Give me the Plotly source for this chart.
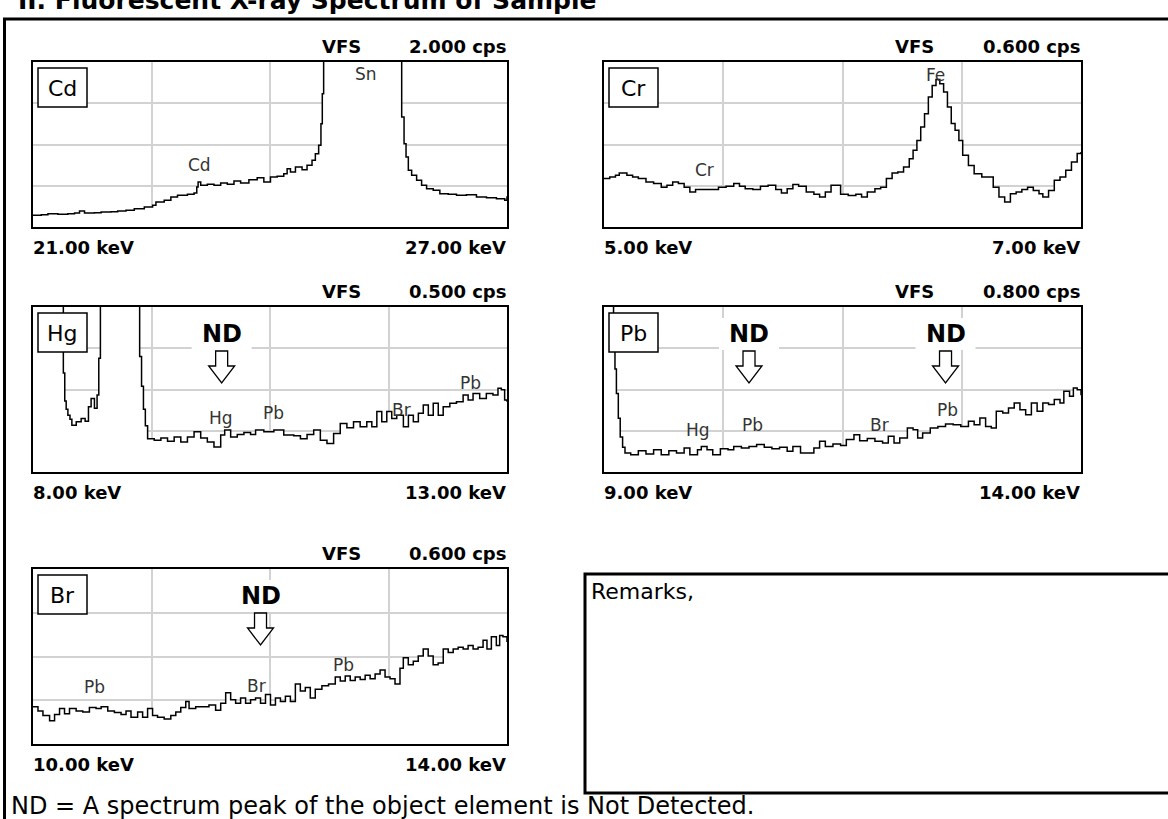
import plotly.graph_objects as go

W, H = 1168, 819

# ---------------- data ----------------
cd_keV = [21.000, 21.105, 21.189, 21.315, 21.441, 21.526, 21.589, 21.652, 21.778, 21.862, 21.988, 22.072,
          22.177, 22.282, 22.409, 22.514, 22.556, 22.661, 22.745, 22.829, 22.955, 23.039, 23.073, 23.090,
          23.123, 23.207, 23.291, 23.376, 23.460, 23.544, 23.628, 23.733, 23.838, 23.922, 24.006, 24.090,
          24.174, 24.217, 24.259, 24.322, 24.406, 24.469, 24.532, 24.574, 24.616, 24.645, 24.662, 24.679,
          24.750, 24.900, 25.270, 25.500, 25.650, 25.667, 25.697, 25.722, 25.751, 25.793, 25.856, 25.919,
          25.982, 26.066, 26.150, 26.256, 26.361, 26.487, 26.613, 26.740, 26.866, 26.971, 27.000]
cd_cps = [0.141, 0.150, 0.162, 0.154, 0.162, 0.170, 0.194, 0.170, 0.174, 0.182, 0.186, 0.194,
          0.202, 0.222, 0.242, 0.263, 0.303, 0.323, 0.364, 0.384, 0.396, 0.412, 0.485, 0.545,
          0.505, 0.517, 0.505, 0.533, 0.517, 0.558, 0.533, 0.574, 0.598, 0.545, 0.606, 0.614,
          0.646, 0.707, 0.667, 0.727, 0.695, 0.747, 0.808, 0.889, 0.990, 1.253, 1.616, 2.050,
          3.000, 6.000, 9.000, 5.000, 2.600, 1.333, 1.010, 0.848, 0.687, 0.626, 0.566, 0.505,
          0.465, 0.444, 0.404, 0.396, 0.384, 0.392, 0.364, 0.356, 0.343, 0.323, 0.372]

cr_keV = [5.000, 5.024, 5.048, 5.064, 5.096, 5.120, 5.144, 5.176, 5.208, 5.240, 5.264, 5.288, 5.312,
          5.336, 5.360, 5.384, 5.416, 5.448, 5.480, 5.512, 5.544, 5.568, 5.592, 5.624, 5.656, 5.688,
          5.720, 5.744, 5.768, 5.792, 5.816, 5.848, 5.880, 5.904, 5.928, 5.952, 5.976, 5.992, 6.024,
          6.056, 6.080, 6.104, 6.136, 6.160, 6.184, 6.208, 6.232, 6.256, 6.280, 6.296, 6.312, 6.328,
          6.344, 6.360, 6.376, 6.392, 6.408, 6.424, 6.440, 6.456, 6.472, 6.488, 6.504, 6.528, 6.552,
          6.584, 6.616, 6.632, 6.656, 6.680, 6.704, 6.728, 6.752, 6.776, 6.800, 6.824, 6.840, 6.864,
          6.888, 6.912, 6.936, 6.960, 6.984, 7.000]
cr_cps = [0.176, 0.182, 0.188, 0.196, 0.188, 0.182, 0.176, 0.164, 0.158, 0.145, 0.152, 0.164, 0.158,
          0.145, 0.127, 0.136, 0.136, 0.136, 0.145, 0.148, 0.158, 0.148, 0.139, 0.136, 0.148, 0.152,
          0.136, 0.124, 0.139, 0.155, 0.148, 0.127, 0.119, 0.109, 0.127, 0.152, 0.152, 0.119, 0.115,
          0.119, 0.109, 0.127, 0.139, 0.145, 0.176, 0.196, 0.200, 0.218, 0.248, 0.279, 0.315, 0.364,
          0.412, 0.473, 0.515, 0.536, 0.521, 0.491, 0.436, 0.376, 0.352, 0.315, 0.261, 0.224, 0.194,
          0.182, 0.182, 0.145, 0.109, 0.091, 0.121, 0.127, 0.136, 0.145, 0.133, 0.121, 0.109, 0.133,
          0.170, 0.182, 0.206, 0.236, 0.267, 0.273]

hg_keV = [8.000, 8.150, 8.300, 8.320, 8.335, 8.350, 8.368, 8.390, 8.410, 8.456, 8.508, 8.550, 8.585,
          8.613, 8.648, 8.676, 8.694, 8.711, 8.850, 9.000, 9.110, 9.125, 9.145, 9.165, 9.185, 9.209,
          9.279, 9.349, 9.419, 9.489, 9.559, 9.629, 9.699, 9.769, 9.839, 9.909, 9.980, 10.022, 10.085,
          10.155, 10.225, 10.295, 10.348, 10.435, 10.541, 10.645, 10.751, 10.821, 10.891, 10.961, 11.031,
          11.101, 11.171, 11.241, 11.311, 11.381, 11.451, 11.521, 11.574, 11.627, 11.679, 11.732, 11.784,
          11.837, 11.907, 11.960, 12.012, 12.065, 12.117, 12.170, 12.222, 12.275, 12.327, 12.397, 12.467,
          12.537, 12.590, 12.642, 12.712, 12.782, 12.852, 12.905, 12.940, 12.975, 13.000]
hg_cps = [1.500, 1.100, 0.600, 0.300, 0.215, 0.190, 0.172, 0.160, 0.142, 0.152, 0.162, 0.154, 0.198,
          0.223, 0.193, 0.233, 0.345, 0.700, 1.400, 1.200, 0.600, 0.350, 0.260, 0.190, 0.140, 0.101,
          0.096, 0.103, 0.093, 0.106, 0.091, 0.106, 0.122, 0.103, 0.091, 0.076, 0.112, 0.127, 0.106,
          0.114, 0.120, 0.114, 0.127, 0.122, 0.127, 0.112, 0.110, 0.101, 0.114, 0.127, 0.096,
          0.086, 0.117, 0.147, 0.134, 0.152, 0.137, 0.152, 0.137, 0.183, 0.152, 0.183, 0.162,
          0.172, 0.137, 0.172, 0.152, 0.178, 0.203, 0.172, 0.208, 0.172, 0.198, 0.208, 0.213,
          0.233, 0.218, 0.238, 0.223, 0.238, 0.233, 0.254, 0.249, 0.218, 0.213]

pb_keV = [9.000, 9.080, 9.100, 9.115, 9.130, 9.150, 9.170, 9.195, 9.220, 9.280, 9.360, 9.440, 9.520,
          9.600, 9.680, 9.760, 9.840, 9.900, 9.980, 10.020, 10.080, 10.140, 10.220, 10.300, 10.360,
          10.440, 10.520, 10.600, 10.680, 10.760, 10.840, 10.920, 10.980, 11.060, 11.140, 11.200, 11.260,
          11.320, 11.400, 11.480, 11.540, 11.620, 11.680, 11.760, 11.840, 11.920, 11.980, 12.040, 12.100,
          12.180, 12.240, 12.288, 12.340, 12.420, 12.500, 12.580, 12.660, 12.740, 12.820, 12.880, 12.940,
          13.000, 13.060, 13.112, 13.180, 13.240, 13.300, 13.360, 13.420, 13.480, 13.540, 13.600, 13.660,
          13.720, 13.780, 13.820, 13.880, 13.920, 13.960, 14.000]
pb_cps = [1.200, 0.850, 0.634, 0.500, 0.380, 0.260, 0.170, 0.120, 0.092, 0.084, 0.103, 0.087, 0.108,
          0.084, 0.103, 0.092, 0.116, 0.084, 0.108, 0.124, 0.108, 0.084, 0.113, 0.108, 0.124,
          0.116, 0.124, 0.133, 0.120, 0.113, 0.120, 0.100, 0.124, 0.092, 0.092, 0.116, 0.149,
          0.124, 0.136, 0.129, 0.157, 0.181, 0.152, 0.162, 0.149, 0.141, 0.173, 0.141, 0.165,
          0.213, 0.205, 0.165, 0.189, 0.213, 0.221, 0.233, 0.229, 0.221, 0.246, 0.229, 0.262,
          0.221, 0.213, 0.294, 0.286, 0.310, 0.335, 0.302, 0.278, 0.335, 0.294, 0.335, 0.327,
          0.351, 0.335, 0.391, 0.367, 0.407, 0.399, 0.372]

br_keV = [10.000, 10.042, 10.084, 10.140, 10.182, 10.224, 10.266, 10.308, 10.364, 10.420, 10.476, 10.532,
          10.575, 10.631, 10.687, 10.743, 10.785, 10.827, 10.883, 10.925, 10.967, 11.009, 11.051, 11.107,
          11.163, 11.205, 11.247, 11.289, 11.317, 11.373, 11.429, 11.485, 11.541, 11.584, 11.626, 11.668,
          11.710, 11.752, 11.794, 11.836, 11.878, 11.920, 11.962, 12.004, 12.046, 12.088, 12.130, 12.172,
          12.214, 12.256, 12.298, 12.340, 12.382, 12.438, 12.494, 12.551, 12.593, 12.635, 12.677, 12.719,
          12.761, 12.803, 12.845, 12.887, 12.929, 12.971, 13.013, 13.055, 13.097, 13.125, 13.167, 13.209,
          13.251, 13.293, 13.335, 13.377, 13.419, 13.462, 13.504, 13.546, 13.588, 13.630, 13.672, 13.714,
          13.756, 13.798, 13.831, 13.868, 13.910, 13.938, 13.966, 14.000]
br_cps = [0.128, 0.113, 0.098, 0.080, 0.101, 0.122, 0.104, 0.122, 0.113, 0.110, 0.125, 0.122,
          0.128, 0.113, 0.108, 0.101, 0.113, 0.092, 0.110, 0.092, 0.122, 0.098, 0.092, 0.086,
          0.098, 0.110, 0.125, 0.146, 0.122, 0.128, 0.128, 0.134, 0.116, 0.140, 0.176, 0.152,
          0.140, 0.158, 0.140, 0.152, 0.158, 0.140, 0.170, 0.134, 0.158, 0.146, 0.164, 0.146,
          0.206, 0.182, 0.194, 0.158, 0.188, 0.200, 0.206, 0.230, 0.216, 0.233, 0.218, 0.230,
          0.221, 0.236, 0.224, 0.240, 0.254, 0.230, 0.224, 0.206, 0.260, 0.296, 0.272, 0.284,
          0.302, 0.326, 0.302, 0.272, 0.278, 0.326, 0.314, 0.326, 0.332, 0.326, 0.338, 0.326,
          0.332, 0.356, 0.326, 0.368, 0.338, 0.372, 0.368, 0.350]

panel_names = ["Cd", "Cr", "Hg", "Pb", "Br"]
energy_ranges = [(21.0, 27.0), (5.0, 7.0), (8.0, 13.0), (9.0, 14.0), (10.0, 14.0)]
vfs_values = [2.0, 0.6, 0.5, 0.8, 0.6]

peak_names = [["Sn", "Cd"], ["Fe", "Cr"], ["Hg", "Pb", "Br", "Pb"], ["Hg", "Pb", "Br", "Pb"], ["Pb", "Br", "Pb"]]
peak_keV = [[25.21, 23.11], [6.39, 5.42], [9.98, 10.54, 11.89, 12.61], [9.99, 10.56, 11.89, 12.60],
            [10.52, 11.89, 12.62]]
nd_keV = [[], [], [9.99], [10.52, 12.58], [11.92]]

spectra = [(cd_keV, cd_cps), (cr_keV, cr_cps), (hg_keV, hg_cps), (pb_keV, pb_cps), (br_keV, br_cps)]

# ---------------- layout (pixel boxes) ----------------
boxes = [(33, 62, 507, 227), (604, 62, 1081, 227), (33, 307, 507, 472), (604, 307, 1081, 472),
         (33, 569, 507, 744)]
peak_label_y = [[0.929, 0.374], [0.919, 0.343], [0.325, 0.355, 0.375, 0.538], [0.257, 0.283, 0.287, 0.378],
                [0.324, 0.334, 0.454]]

GRID = "#d2d2d2"
SANS = "DejaVu Sans"


def px(x):
    return x / W


def py(y):
    return 1 - y / H


fig = go.Figure()
annotations = []
shapes = []

for i in range(5):
    n = i + 1
    xname = "x" if n == 1 else f"x{n}"
    yname = "y" if n == 1 else f"y{n}"
    xa = "xaxis" if n == 1 else f"xaxis{n}"
    ya = "yaxis" if n == 1 else f"yaxis{n}"
    x0, y0, x1, y1 = boxes[i]
    emin, emax = energy_ranges[i]
    vfs = vfs_values[i]
    ex, ey = spectra[i]

    fig.add_trace(go.Scatter(
        x=ex, y=ey, mode="lines", xaxis=xname, yaxis=yname,
        line=dict(color="black", width=1.5, shape="hv"),
        fill="tozeroy", fillcolor="white", hoverinfo="skip", showlegend=False))

    fig.update_layout(**{
        xa: dict(domain=[px(x0), px(x1)], range=[emin, emax], anchor=yname,
                 tick0=emin, dtick=(emax - emin) / 4, showgrid=True, gridcolor=GRID, gridwidth=1.5,
                 showticklabels=False, ticks="", zeroline=False, showline=True, mirror=True,
                 linecolor="black", linewidth=1.5, fixedrange=True),
        ya: dict(domain=[py(y1), py(y0)], range=[0, vfs], anchor=xname,
                 tick0=0, dtick=vfs / 4, showgrid=True, gridcolor=GRID, gridwidth=1.5,
                 showticklabels=False, ticks="", zeroline=False, showline=True, mirror=True,
                 linecolor="black", linewidth=1.5, fixedrange=True),
    })

    bold = dict(family=SANS, size=18, color="black")
    # VFS header
    annotations.append(dict(text="<b>VFS</b>", x=px(x0 + 0.697 * (x1 - x0)), y=py(y0 - 16),
                            xref="paper", yref="paper", xanchor="right", yanchor="middle",
                            showarrow=False, font=bold))
    annotations.append(dict(text=f"<b>{vfs:.3f} cps</b>", x=px(x1 + 1), y=py(y0 - 16),
                            xref="paper", yref="paper", xanchor="right", yanchor="middle",
                            showarrow=False, font=bold))
    # energy range labels
    annotations.append(dict(text=f"<b>{emin:.2f} keV</b>", x=px(x0 - 2), y=py(y1 + 20),
                            xref="paper", yref="paper", xanchor="left", yanchor="middle",
                            showarrow=False, font=bold))
    annotations.append(dict(text=f"<b>{emax:.2f} keV</b>", x=px(x1 + 1), y=py(y1 + 20),
                            xref="paper", yref="paper", xanchor="right", yanchor="middle",
                            showarrow=False, font=bold))

    # element label box
    shapes.append(dict(type="rect", xref="paper", yref="paper",
                       x0=px(x0 + 5), x1=px(x0 + 54), y0=py(y0 + 45), y1=py(y0 + 6),
                       line=dict(color="black", width=1.5), fillcolor="white", layer="above"))
    annotations.append(dict(text=panel_names[i], x=px(x0 + 29), y=py(y0 + 26),
                            xref="paper", yref="paper", xanchor="center", yanchor="middle",
                            showarrow=False, font=dict(family=SANS, size=22, color="black")))

    # peak labels
    for name, e, fy in zip(peak_names[i], peak_keV[i], peak_label_y[i]):
        annotations.append(dict(text=name, x=e, y=fy, xref=xname, yref=f"{yname} domain",
                                xanchor="center", yanchor="middle", showarrow=False,
                                font=dict(family=SANS, size=17, color="#333333")))

    # ND markers
    for e in nd_keV[i]:
        cx = x0 + (e - emin) / (emax - emin) * (x1 - x0)
        shapes.append(dict(type="rect", xref="paper", yref="paper",
                           x0=px(cx - 30), x1=px(cx + 30), y0=py(y0 + 43), y1=py(y0 + 11),
                           line=dict(width=0), fillcolor="white", layer="above"))
        annotations.append(dict(text="<b>ND</b>", x=px(cx), y=py(y0 + 27), xref="paper", yref="paper",
                                xanchor="center", yanchor="middle", showarrow=False,
                                font=dict(family=SANS, size=24, color="black")))
        top, tip = y0 + 44, y0 + 76
        mid = top + 15
        pts = [(cx - 6, top), (cx + 6, top), (cx + 6, mid), (cx + 13, mid), (cx, tip),
               (cx - 13, mid), (cx - 6, mid)]
        path = "M " + " L ".join(f"{px(a):.5f},{py(b):.5f}" for a, b in pts) + " Z"
        shapes.append(dict(type="path", xref="paper", yref="paper", path=path,
                           line=dict(color="black", width=1.3), fillcolor="white", layer="above"))

# outer frame (top and left edges)
shapes.append(dict(type="line", xref="paper", yref="paper", x0=px(3), x1=px(W + 5), y0=py(19), y1=py(19),
                   line=dict(color="black", width=3)))
shapes.append(dict(type="line", xref="paper", yref="paper", x0=px(4.5), x1=px(4.5), y0=py(18), y1=py(H + 5),
                   line=dict(color="black", width=3)))
# remarks box
shapes.append(dict(type="rect", xref="paper", yref="paper", x0=px(585), x1=px(W + 10), y0=py(793), y1=py(574),
                   line=dict(color="black", width=3), fillcolor="rgba(0,0,0,0)"))

annotations.append(dict(text="Remarks,", x=px(589), y=py(591), xref="paper", yref="paper",
                        xanchor="left", yanchor="middle", showarrow=False,
                        font=dict(family=SANS, size=22, color="black")))
annotations.append(dict(text="ND = A spectrum peak of the object element is Not Detected.",
                        x=px(9), y=py(806), xref="paper", yref="paper", xanchor="left", yanchor="middle",
                        showarrow=False, font=dict(family=SANS, size=24, color="black")))
annotations.append(dict(text="<b>II. Fluorescent X-ray Spectrum of Sample</b>",
                        x=px(16), y=py(1), xref="paper", yref="paper", xanchor="left", yanchor="middle",
                        showarrow=False, font=dict(family=SANS, size=25, color="black")))

fig.update_layout(width=W, height=H, margin=dict(l=0, r=0, t=0, b=0),
                  paper_bgcolor="white", plot_bgcolor="white", showlegend=False,
                  annotations=annotations, shapes=shapes)

fig.write_html("out.html", config={"displayModeBar": False},
               post_script="document.body.style.margin='0';document.body.style.overflow='hidden';")
